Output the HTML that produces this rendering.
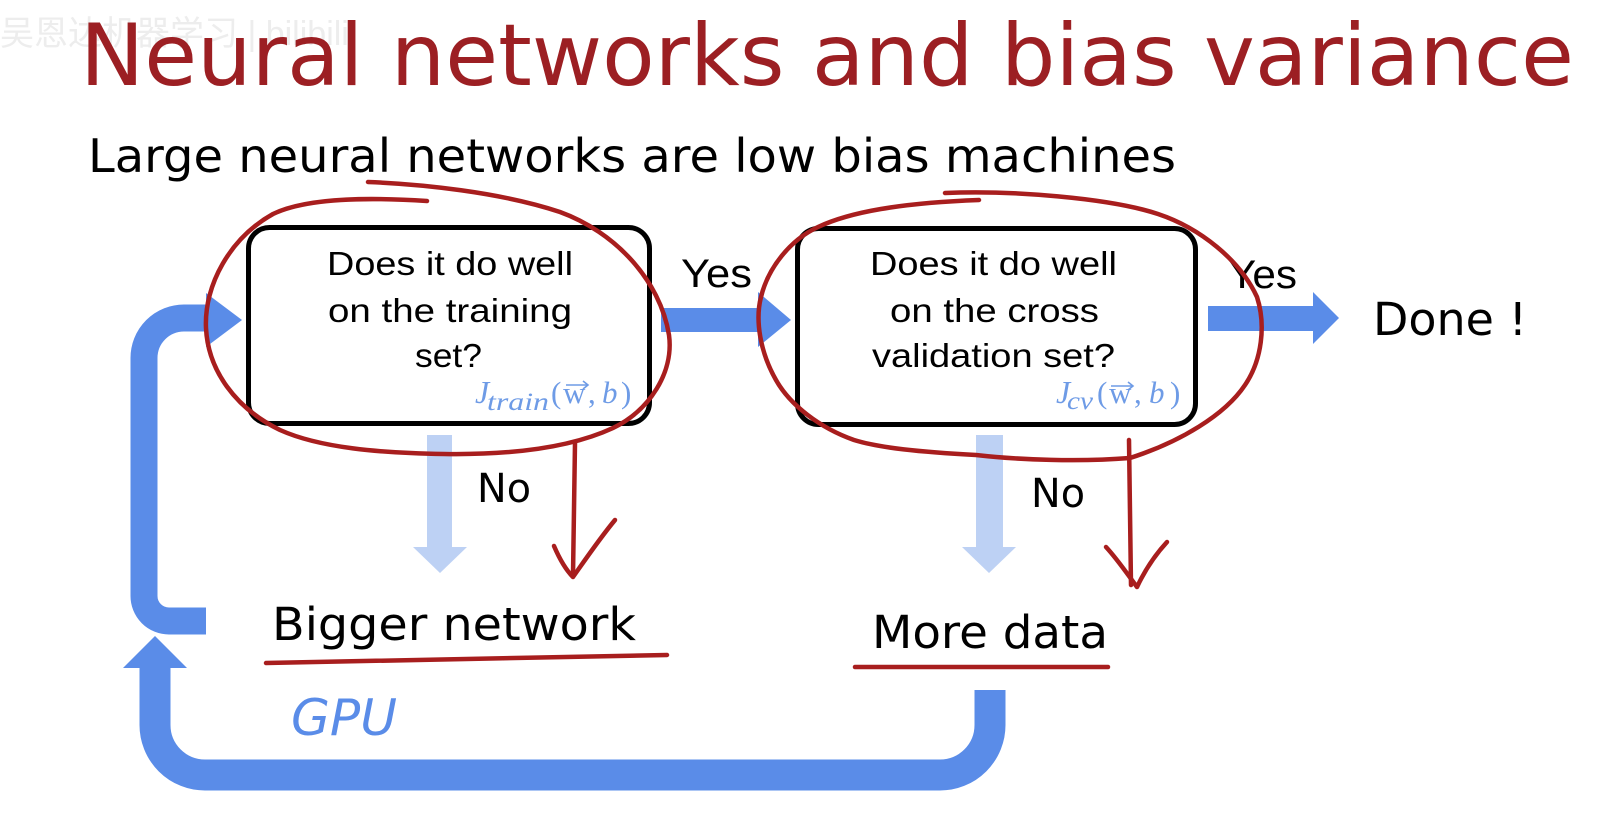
<!DOCTYPE html>
<html>
<head>
<meta charset="utf-8">
<style>
html,body{margin:0;padding:0;background:#ffffff;}
svg{display:block;}
</style>
</head>
<body>
<svg width="1618" height="814" viewBox="0 0 1618 814" xmlns="http://www.w3.org/2000/svg">
<rect x="0" y="0" width="1618" height="814" fill="#ffffff"/>

<!-- faint watermark -->
<text x="0" y="45" font-family="'Liberation Sans','Noto Sans CJK SC',sans-serif" font-size="34" fill="#ededed">吴恩达机器学习 | bilibili</text>

<!-- Title -->
<text x="80" y="85" font-family="'DejaVu Sans',sans-serif" font-size="86" fill="#9c1f23" textLength="1494" lengthAdjust="spacingAndGlyphs">Neural networks and bias variance</text>

<!-- Subtitle -->
<text x="88" y="172" font-family="'DejaVu Sans',sans-serif" font-size="46" fill="#000" textLength="1088" lengthAdjust="spacingAndGlyphs">Large neural networks are low bias machines</text>

<!-- Boxes -->
<rect x="248.5" y="227.5" width="401" height="196" rx="21" ry="21" fill="#fff" stroke="#000" stroke-width="5"/>
<rect x="797.5" y="228.5" width="398" height="196" rx="21" ry="21" fill="#fff" stroke="#000" stroke-width="5"/>

<!-- Box 1 text -->
<g font-family="'Liberation Sans',Arial,sans-serif" font-size="33" fill="#000">
<text x="327" y="275" textLength="246" lengthAdjust="spacingAndGlyphs">Does it do well</text>
<text x="328" y="322" textLength="244" lengthAdjust="spacingAndGlyphs">on the training</text>
<text x="415" y="367" textLength="67" lengthAdjust="spacingAndGlyphs">set?</text>
<!-- Box 2 text -->
<text x="870" y="275" textLength="247" lengthAdjust="spacingAndGlyphs">Does it do well</text>
<text x="890" y="322" textLength="209" lengthAdjust="spacingAndGlyphs">on the cross</text>
<text x="872" y="367" textLength="243" lengthAdjust="spacingAndGlyphs">validation set?</text>
</g>

<!-- J labels -->
<g font-family="'Liberation Serif',serif" fill="#6e9be6">
<text x="475" y="403" font-size="32" font-style="italic">J</text>
<text x="487" y="410" font-size="25" font-style="italic" textLength="62" lengthAdjust="spacingAndGlyphs">train</text>
<text x="551" y="403" font-size="31">(</text>
<text x="563" y="403" font-size="31">w</text>
<text x="588" y="403" font-size="31">,</text>
<text x="602" y="403" font-size="31" font-style="italic">b</text>
<text x="621" y="403" font-size="31">)</text>
<path d="M566 385 L588 385 M583 381 L588 385 L583 389" stroke="#6e9be6" stroke-width="1.6" fill="none"/>

<text x="1056" y="403" font-size="32" font-style="italic">J</text>
<text x="1067" y="409" font-size="25" font-style="italic" textLength="26" lengthAdjust="spacingAndGlyphs">cv</text>
<text x="1097" y="403" font-size="31">(</text>
<text x="1109" y="403" font-size="31">w</text>
<text x="1134" y="403" font-size="31">,</text>
<text x="1149" y="403" font-size="31" font-style="italic">b</text>
<text x="1170" y="403" font-size="31">)</text>
<path d="M1111 386 L1133 386 M1128 382 L1133 386 L1128 390" stroke="#6e9be6" stroke-width="1.6" fill="none"/>
</g>

<!-- Blue arrows -->
<g fill="#5a8ce8">
<!-- Yes arrow 1 -->
<rect x="661" y="308" width="98" height="24"/>
<polygon points="758,292 791,320 758,347"/>
<!-- Yes arrow 2 -->
<rect x="1208" y="306" width="106" height="25"/>
<polygon points="1313,292 1339,318 1313,344"/>
<!-- upper loop arrowhead -->
<polygon points="206,293 242,320 206,347"/>
<!-- lower loop arrowhead -->
<polygon points="123,668 155,636 187,668"/>
</g>
<path d="M210 318 L184 318 A40 40 0 0 0 144 358 L144 596 A25 25 0 0 0 169 621 L206 621" fill="none" stroke="#5a8ce8" stroke-width="27"/>
<path d="M990 690 L990 725 A50 50 0 0 1 940 775 L205 775 A50 50 0 0 1 155 725 L155 666" fill="none" stroke="#5a8ce8" stroke-width="31"/>

<!-- Light blue No arrows -->
<g fill="#bdd1f4">
<rect x="427" y="435" width="25" height="113"/>
<polygon points="413,547 440,573 467,547"/>
<rect x="976" y="435" width="27" height="113"/>
<polygon points="962,547 989,573 1016,547"/>
</g>

<!-- Labels -->
<g font-family="'Liberation Sans',Arial,sans-serif" font-size="40" fill="#000">
<text x="681" y="287" textLength="71" lengthAdjust="spacingAndGlyphs">Yes</text>
<text x="1228" y="288" textLength="69" lengthAdjust="spacingAndGlyphs">Yes</text>
</g>
<g font-family="'DejaVu Sans',sans-serif" fill="#000">
<text x="1373" y="335" font-size="45" textLength="154" lengthAdjust="spacingAndGlyphs">Done !</text>
<text x="477" y="502" font-size="40" textLength="54" lengthAdjust="spacingAndGlyphs">No</text>
<text x="1031" y="507" font-size="40" textLength="54" lengthAdjust="spacingAndGlyphs">No</text>
<text x="272" y="640" font-size="45" textLength="364" lengthAdjust="spacingAndGlyphs">Bigger network</text>
<text x="872" y="648" font-size="45" textLength="236" lengthAdjust="spacingAndGlyphs">More data</text>
</g>
<text x="291" y="735" font-family="'DejaVu Sans',sans-serif" font-weight="200" font-style="italic" font-size="50" fill="#5a8ce8" textLength="106" lengthAdjust="spacingAndGlyphs">GPU</text>

<!-- Red annotations -->
<g fill="none" stroke="#a81e1e" stroke-width="4.5" stroke-linecap="round" stroke-linejoin="round">
<!-- circle 1 -->
<path d="M368 182 C420 184 500 192 560 212 C615 232 660 280 669 335 C674 372 650 410 613 428 C570 448 510 455 444 454 C380 453 320 448 280 430 C235 408 208 370 206 328 C204 285 230 238 273 214 C310 196 380 198 427 201"/>
<!-- circle 2 -->
<path d="M945 193 C1010 190 1110 198 1158 214 C1200 228 1240 260 1257 297 C1266 325 1262 360 1245 385 C1225 415 1180 442 1130 458 C1080 462 1020 460 976 455 C920 452 880 448 854 440 C820 428 790 405 776 380 C760 352 755 320 761 297 C768 268 790 240 818 227 C850 212 900 203 979 200"/>
<!-- red arrow 1 -->
<path d="M575 443 L573 575"/>
<path d="M554 546 C560 560 566 570 573 577 C585 560 600 538 615 520"/>
<!-- red arrow 2 -->
<path d="M1129 440 L1131 585"/>
<path d="M1106 547 C1118 560 1128 575 1137 587 C1145 570 1155 555 1167 542"/>
<!-- underlines -->
<path d="M266 663 C380 661 520 659 667 655"/>
<path d="M855 667 L1108 667"/>
</g>
</svg>
</body>
</html>
